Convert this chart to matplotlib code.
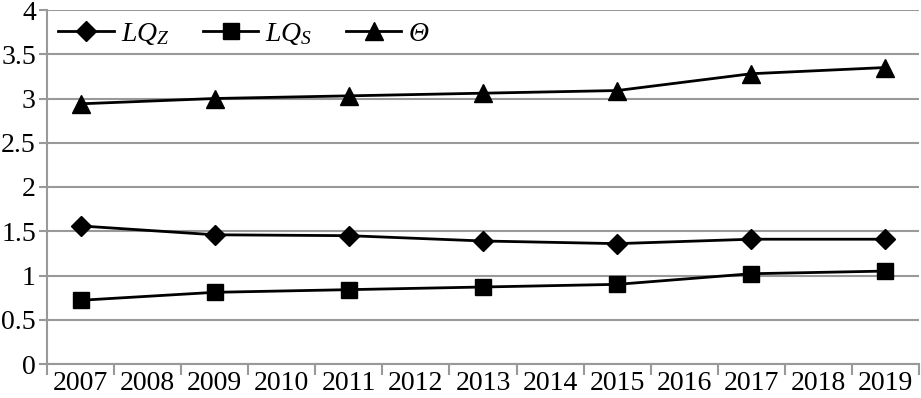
import matplotlib
matplotlib.use("Agg")
import matplotlib.pyplot as plt
import numpy as np

# years on the category axis; data only at odd years
years = [str(y) for y in range(2007, 2020)]
data_years = [2007, 2009, 2011, 2013, 2015, 2017, 2019]
lq_z = [1.56, 1.46, 1.45, 1.39, 1.36, 1.41, 1.41]
lq_s = [0.72, 0.81, 0.84, 0.87, 0.90, 1.02, 1.05]
theta = [2.94, 3.00, 3.03, 3.06, 3.09, 3.28, 3.35]
yticks = [0, 0.5, 1, 1.5, 2, 2.5, 3, 3.5, 4]

plt.rcParams['font.family'] = 'Liberation Serif'
plt.rcParams['mathtext.fontset'] = 'custom'
plt.rcParams['mathtext.rm'] = 'Liberation Serif'
plt.rcParams['mathtext.it'] = 'Liberation Serif:italic'

fig = plt.figure(figsize=(9.21, 3.98), dpi=100)
ax = fig.add_axes([47 / 921, 1 - 364 / 398, (919 - 47) / 921, (364 - 10) / 398])

xpos = [years.index(str(y)) for y in data_years]
grey = '#999999'

ax.plot(xpos, lq_z, 'k-', marker='D', ms=10, lw=2, label=r'$\mathit{LQ}_{Z}$')
ax.plot(xpos, lq_s, 'k-', marker='s', ms=12, lw=2, label=r'$\mathit{LQ}_{S}$')
ax.plot(xpos, theta, 'k-', marker='^', ms=13, lw=2, label='Θ')

ax.set_xlim(-0.5, len(years) - 0.5)
ax.set_ylim(0, 4)
ax.set_yticks(yticks)
ax.set_yticklabels([('%g' % v) for v in yticks])
ax.set_xticks(range(len(years)))
ax.set_xticklabels(years)
ax.set_xticks(np.arange(-0.5, len(years), 1), minor=True)
ax.tick_params(axis='x', which='major', length=0, labelsize=20, pad=5)
ax.tick_params(axis='x', which='minor', length=8, color=grey, width=1.5)
ax.tick_params(axis='y', length=6, color=grey, width=1.5, labelsize=20, pad=2)

ax.grid(axis='y', color=grey, lw=1.5)
ax.set_axisbelow(True)
for s in ['top', 'right']:
    ax.spines[s].set_visible(False)
for s in ['left', 'bottom']:
    ax.spines[s].set_color(grey)
    ax.spines[s].set_linewidth(1.5)

leg = ax.legend(loc='upper left', ncol=3, frameon=False, fontsize=20,
                handlelength=2.0, columnspacing=1.2, handletextpad=0.25,
                bbox_to_anchor=(0.0, 1.0), borderaxespad=0.2, borderpad=0.2)
leg.get_texts()[2].set_fontstyle('italic')

fig.savefig('out.png', dpi=100)
